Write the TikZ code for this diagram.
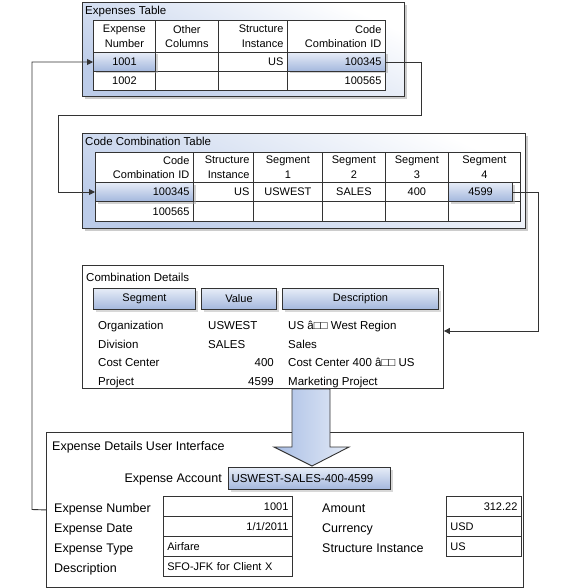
\documentclass[tikz,border=0pt]{standalone}
\usepackage{fontspec}
\setmainfont{Liberation Sans}
\usetikzlibrary{arrows.meta,shadows}
\definecolor{ln}{HTML}{333333}
\definecolor{hlTop}{HTML}{E6ECF7}
\definecolor{hlBot}{HTML}{A3B7DD}
\definecolor{frameBlue}{HTML}{BCCCE9}
\definecolor{arrL}{HTML}{A9BEE5}
\definecolor{arrR}{HTML}{E3EAF6}
\newcommand\tabfont{\fontsize{11}{14.5}\selectfont}
\newcommand\ttlfont{\fontsize{11.5}{13}\selectfont}
\newcommand\lblfont{\fontsize{12.5}{14}\selectfont}
\newcommand\tcell[7]{\pgfmathsetmacro\tcw{#4-8}%
  \node[#6, minimum width=#4pt, minimum height=#5pt, text width=\tcw pt, anchor=north west] (#1) at (#2,#3) {#7};}
\tikzset{
  tblframe/.style={draw=ln, line width=0.9pt, top color=white, bottom color=frameBlue, shading angle=-25,
    drop shadow={shadow xshift=2.5pt, shadow yshift=-2.5pt, fill=black!40}, inner sep=0pt, anchor=north west},
  panel/.style={draw=ln, line width=0.9pt, fill=white, inner sep=0pt, anchor=north west},
  cellbase/.style={draw=ln, line width=0.8pt, fill=white, inner xsep=4pt, inner ysep=1pt, font=\tabfont},
  cc/.style={cellbase, align=center},
  cr/.style={cellbase, align=right},
  cl/.style={cellbase, align=left},
  hlc/.style={cellbase, top color=hlTop, bottom color=hlBot, align=center, line width=1pt,
    drop shadow={shadow xshift=2pt, shadow yshift=-2pt, fill=black!35}},
  hlr/.style={hlc, align=right},
  btn/.style={draw=ln, line width=1pt, top color=hlTop, bottom color=hlBot, inner sep=0pt, anchor=north west,
    font=\tabfont, drop shadow={shadow xshift=2pt, shadow yshift=-2pt, fill=black!30}},
  ttl/.style={anchor=base west, inner sep=0pt, font=\ttlfont},
  txt/.style={anchor=base west, inner sep=0pt, font=\ttlfont},
  txtr/.style={anchor=base east, inner sep=0pt, font=\ttlfont},
  lbl/.style={anchor=base west, inner sep=0pt, font=\lblfont},
  conn/.style={draw=ln, line width=0.9pt, -{Triangle[length=6pt,width=6pt]}},
}
\begin{document}
\begin{tikzpicture}[x=1pt,y=-1pt]
\path[use as bounding box] (0,0) rectangle (569,588);

% ---------- Expenses Table ----------
\node[tblframe, minimum width=322pt, minimum height=94pt] (et) at (82,2) {};
\node[ttl] (etTitle) at (85,15) {Expenses Table};
\tcell{eh1}{93}{20}{62}{32}{cc}{Expense\\Number}
\tcell{eh2}{155}{20}{63}{32}{cc}{Other\\Columns}
\tcell{eh3}{218}{20}{69}{32}{cr}{Structure\\Instance}
\tcell{eh4}{287}{20}{98}{32}{cr}{Code\\Combination ID}
\tcell{e12}{155}{52}{63}{19}{cc}{}
\tcell{eUS}{218}{52}{69}{19}{cr}{US}
\tcell{e1002}{93}{71}{62}{19}{cc}{1002}
\tcell{e22}{155}{71}{63}{19}{cc}{}
\tcell{e23}{218}{71}{69}{19}{cc}{}
\tcell{e100565}{287}{71}{98}{19}{cr}{100565}
\tcell{e1001}{93}{52}{62}{19}{hlc}{1001}
\tcell{e100345}{287}{52}{98}{19}{hlr}{100345}

% ---------- Code Combination Table ----------
\node[tblframe, minimum width=443pt, minimum height=95pt] (ct) at (82,133) {};
\node[ttl] (ctTitle) at (85,146) {Code Combination Table};
\tcell{ch1}{95}{152}{98}{30}{cr}{Code\\Combination ID}
\tcell{ch2}{193}{152}{60}{30}{cr}{Structure\\Instance}
\tcell{ch3}{253}{152}{69}{30}{cc}{Segment\\1}
\tcell{ch4}{322}{152}{63}{30}{cc}{Segment\\2}
\tcell{ch5}{385}{152}{63}{30}{cc}{Segment\\3}
\tcell{ch6}{448}{152}{72}{30}{cc}{Segment\\4}
\tcell{ccUS}{193}{182}{60}{19}{cr}{US}
\tcell{ccUSWEST}{253}{182}{69}{19}{cc}{USWEST}
\tcell{ccSALES}{322}{182}{63}{19}{cc}{SALES}
\tcell{cc400}{385}{182}{63}{19}{cc}{400}
\tcell{cc16}{448}{182}{72}{19}{cc}{}
\tcell{cc100565}{95}{201}{98}{20}{cr}{100565}
\tcell{cc22}{193}{201}{60}{20}{cc}{}
\tcell{cc23}{253}{201}{69}{20}{cc}{}
\tcell{cc24}{322}{201}{63}{20}{cc}{}
\tcell{cc25}{385}{201}{63}{20}{cc}{}
\tcell{cc26}{448}{201}{72}{20}{cc}{}
\tcell{cc100345}{95}{182}{98}{19}{hlr}{100345}
\tcell{cc4599}{448}{182}{64}{19}{hlc}{4599}

% ---------- Combination Details ----------
\node[panel, minimum width=361pt, minimum height=123pt] (cd) at (82,265) {};
\node[ttl] (cdTitle) at (86,281) {Combination Details};
\node[btn, minimum width=102pt, minimum height=21pt] (bSeg) at (93,288) {Segment};
\node[btn, minimum width=75pt, minimum height=21pt] (bVal) at (201,288) {Value};
\node[btn, minimum width=156pt, minimum height=21pt] (bDesc) at (282,288) {Description};
\node[txt] (s1) at (98,329) {Organization};
\node[txt] (s2) at (98,348) {Division};
\node[txt] (s3) at (98,366) {Cost Center};
\node[txt] (s4) at (98,385) {Project};
\node[txt] (v1) at (208,329) {USWEST};
\node[txt] (v2) at (208,348) {SALES};
\node[txtr] (v3) at (274,366) {400};
\node[txtr] (v4) at (274,385) {4599};
\node[txt] (d1) at (288,329) {US â□□ West Region};
\node[txt] (d2) at (288,348) {Sales};
\node[txt] (d3) at (288,366) {Cost Center 400 â□□ US};
\node[txt] (d4) at (288,385) {Marketing Project};

% ---------- Expense Details User Interface ----------
\node[panel, minimum width=477pt, minimum height=155pt] (ui) at (46,432) {};
\node[lbl] (uiTitle) at (52,450) {Expense Details User Interface};
\draw[draw=ln, line width=0.9pt, left color=arrL, right color=arrR]
  (292,389) -- (330,389) -- (330,447) -- (349,447) -- (312,466) -- (274,447) -- (292,447) -- cycle;
\node[lbl, anchor=base east] (eaLbl) at (222,482) {Expense Account};
\node[btn, minimum width=162pt, minimum height=22pt, text width=156pt, align=left, inner xsep=3pt, font=\fontsize{11.5}{13}\selectfont] (ea) at (228,467) {USWEST-SALES-400-4599};
\node[lbl] (l1) at (54,512) {Expense Number};
\node[lbl] (l2) at (54,532) {Expense Date};
\node[lbl] (l3) at (54,552) {Expense Type};
\node[lbl] (l4) at (54,572) {Description};
\tcell{f1}{163}{496}{129}{20}{cr}{1001}
\tcell{f2}{163}{516}{129}{20}{cr}{1/1/2011}
\tcell{f3}{163}{536}{129}{20}{cl}{Airfare}
\tcell{f4}{163}{556}{129}{20}{cl}{SFO-JFK for Client X}
\node[lbl] (r1) at (322,512) {Amount};
\node[lbl] (r2) at (322,532) {Currency};
\node[lbl] (r3) at (322,552) {Structure Instance};
\tcell{g1}{446}{496}{75}{20}{cr}{312.22}
\tcell{g2}{446}{516}{75}{20}{cl}{USD}
\tcell{g3}{446}{536}{75}{20}{cl}{US}

% ---------- Connectors ----------
\coordinate (aTurn) at (32,509.5);
\draw[conn] (ui.west) -- (aTurn) |- (e1001.west);
\coordinate (b1) at (421,115);
\coordinate (b2) at (58,115);
\draw[conn] (e100345.east) -| (b1) -- (b2) |- (cc100345.west);
\coordinate (c1) at (538,331);
\draw[conn] (cc4599.east) -| (c1) -- (c1 -| cd.east);
\end{tikzpicture}
\end{document}
